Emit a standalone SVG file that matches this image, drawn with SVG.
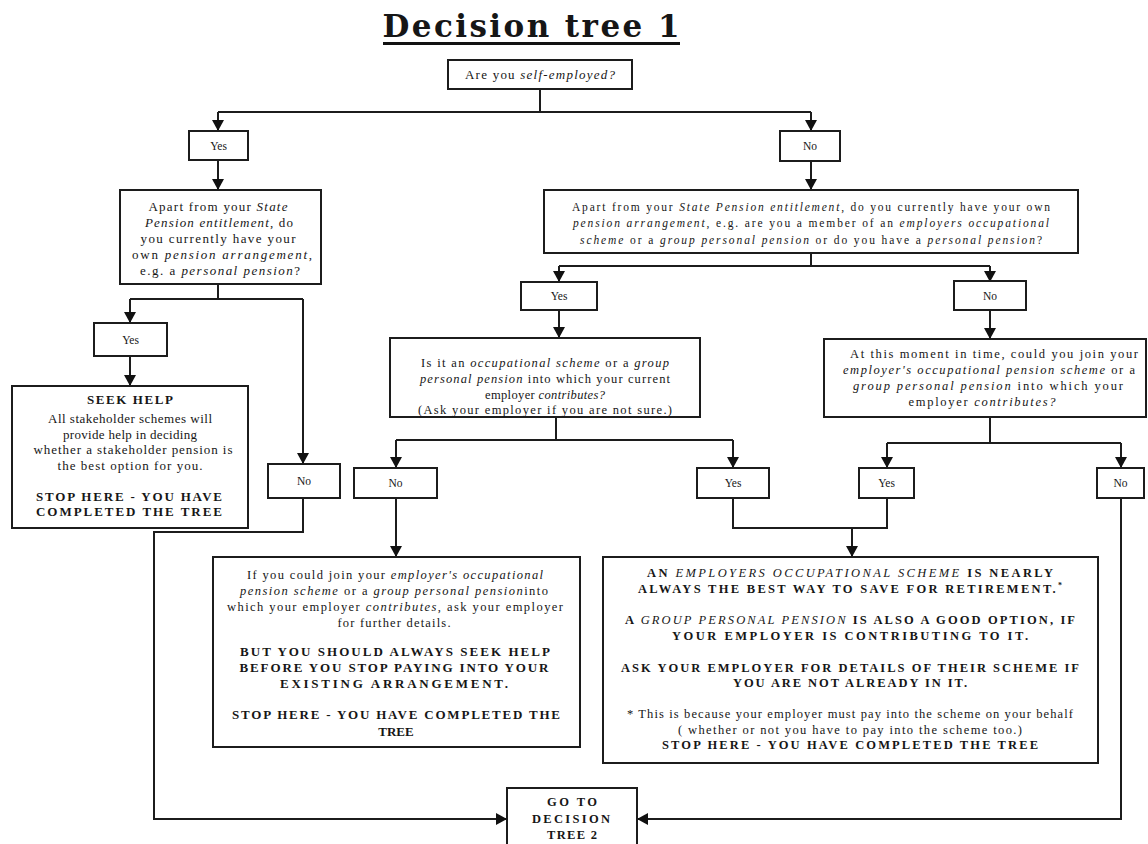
<svg xmlns="http://www.w3.org/2000/svg" width="1148" height="844" viewBox="0 0 1148 844">
<defs>
<marker id="ah" viewBox="0 0 12 12" refX="6" refY="12" markerWidth="12" markerHeight="12" markerUnits="userSpaceOnUse" orient="0">
<path d="M0,1 L12,1 L6,12 z" fill="#111"/>
</marker>
<marker id="ar" viewBox="0 0 12 12" refX="12" refY="6" markerWidth="12" markerHeight="12" markerUnits="userSpaceOnUse" orient="auto">
<path d="M1,0 L12,6 L1,12 z" fill="#111"/>
</marker>
</defs>
<style>
text{font-family:"Liberation Serif","Times New Roman",serif;fill:#161616;text-anchor:middle}
.box{fill:#fff;stroke:#1c1c1c;stroke-width:2}
.c{fill:none;stroke:#1c1c1c;stroke-width:2}
.a{marker-end:url(#ah)}
.s11{font-size:11.5px}
.s12{font-size:12.5px}
.s13{font-size:13px}
.b{font-weight:bold}
.i{font-style:italic}
.ni{font-style:italic;font-weight:normal}
</style>
<rect width="1148" height="844" fill="#fff"/>
<g id="title">
<text x="531" y="37" style="font-family:'DejaVu Serif','Liberation Serif',serif;font-size:31px;font-weight:bold" textLength="297" lengthAdjust="spacing">Decision tree 1</text>
<line x1="383" y1="43.5" x2="680" y2="43.5" stroke="#111" stroke-width="3"/>
</g>
<g id="connectors">
<path class="c" d="M540,89 V112 M218,112 H811"/>
<path class="c a" d="M218,112 V131"/>
<path class="c a" d="M811,112 V131"/>
<path class="c a" d="M218,160 V190"/>
<path class="c" d="M218,284 V299 M130,299 H303"/>
<path class="c a" d="M130,299 V323"/>
<path class="c a" d="M303,299 V464"/>
<path class="c a" d="M130,356 V386"/>
<path class="c" d="M303,498 V532 H154 V819 H496"/>
<path class="c" d="M496,819 H507" marker-end="url(#ar)"/>
<path class="c a" d="M811,161 V190"/>
<path class="c" d="M811,253 V266 M559,266 H990"/>
<path class="c a" d="M559,266 V282"/>
<path class="c a" d="M990,266 V282"/>
<path class="c a" d="M559,310 V338"/>
<path class="c a" d="M990,310 V339"/>
<path class="c" d="M556,417 V440 M396,440 H733"/>
<path class="c a" d="M396,440 V468"/>
<path class="c a" d="M733,440 V468"/>
<path class="c" d="M990,417 V443 M887,443 H1121"/>
<path class="c a" d="M887,443 V468"/>
<path class="c a" d="M1121,443 V468"/>
<path class="c a" d="M396,498 V557"/>
<path class="c" d="M733,498 V528 H887 V498"/>
<path class="c a" d="M852,528 V557"/>
<path class="c" d="M1121,498 V819 H648"/>
<path class="c" d="M648,819 H637" marker-end="url(#ar)"/>
</g>
<g id="q-self-employed">
<rect class="box" x="448" y="60" width="184" height="29"/>
<text class="s13" x="540" y="79" textLength="150" lengthAdjust="spacing">Are you <tspan class="i">self-employed?</tspan></text>
</g>
<g id="yes-1">
<rect class="box" x="189" y="131" width="59" height="29"/>
<text class="s11" x="218.5" y="150">Yes</text>
</g>
<g id="no-1">
<rect class="box" x="780" y="131" width="60" height="30"/>
<text class="s11" x="810" y="150">No</text>
</g>
<g id="q-own-pension-self">
<rect class="box" x="120" y="190" width="201" height="94"/>
<text class="s13" x="218" y="211" textLength="139" lengthAdjust="spacing">Apart from your <tspan class="i">State</tspan></text>
<text class="s13" x="219" y="227" textLength="148" lengthAdjust="spacing"><tspan class="i">Pension entitlement</tspan>, do</text>
<text class="s13" x="218" y="243" textLength="155" lengthAdjust="spacing">you currently have your</text>
<text class="s13" x="222" y="259" textLength="180" lengthAdjust="spacing">own <tspan class="i">pension arrangement</tspan>,</text>
<text class="s13" x="220" y="275" textLength="160" lengthAdjust="spacing">e.g. a <tspan class="i">personal pension</tspan>?</text>
</g>
<g id="q-own-pension-employed">
<rect class="box" x="544" y="190" width="534" height="63"/>
<text class="s11" x="811" y="211" textLength="478" lengthAdjust="spacing">Apart from your <tspan class="i">State Pension entitlement</tspan>, do you currently have your own</text>
<text class="s11" x="811" y="227" textLength="476" lengthAdjust="spacing"><tspan class="i">pension arrangement</tspan>, e.g. are you a member of an <tspan class="i">employers occupational</tspan></text>
<text class="s11" x="811" y="244" textLength="462" lengthAdjust="spacing"><tspan class="i">scheme</tspan> or a <tspan class="i">group personal pension</tspan> or do you have a <tspan class="i">personal pension</tspan>?</text>
</g>
<g id="yes-2">
<rect class="box" x="94" y="323" width="73" height="33"/>
<text class="s11" x="130.5" y="344">Yes</text>
</g>
<g id="no-2">
<rect class="box" x="268" y="464" width="72" height="34"/>
<text class="s11" x="304" y="485">No</text>
</g>
<g id="seek-help">
<rect class="box" x="12" y="386" width="236" height="142"/>
<text class="s13 b" x="130" y="404" textLength="86" lengthAdjust="spacing">SEEK HELP</text>
<text class="s13" x="130" y="423" textLength="164" lengthAdjust="spacing">All stakeholder schemes will</text>
<text class="s13" x="130" y="439" textLength="134" lengthAdjust="spacing">provide help in deciding</text>
<text class="s13" x="133" y="454" textLength="199" lengthAdjust="spacing">whether a stakeholder pension is</text>
<text class="s13" x="130" y="470" textLength="145" lengthAdjust="spacing">the best option for you.</text>
<text class="s13 b" x="129" y="501" textLength="186" lengthAdjust="spacing">STOP HERE - YOU HAVE</text>
<text class="s13 b" x="129" y="516" textLength="186" lengthAdjust="spacing">COMPLETED THE TREE</text>
</g>
<g id="yes-3">
<rect class="box" x="521" y="282" width="76" height="28"/>
<text class="s11" x="559" y="300">Yes</text>
</g>
<g id="no-3">
<rect class="box" x="954" y="281" width="72" height="29"/>
<text class="s11" x="990" y="300">No</text>
</g>
<g id="q-occupational">
<rect class="box" x="390" y="338" width="310" height="79"/>
<text class="s12" x="545" y="367" textLength="248" lengthAdjust="spacing">Is it an <tspan class="i">occupational scheme</tspan> or a <tspan class="i">group</tspan></text>
<text class="s12" x="545" y="383" textLength="250" lengthAdjust="spacing"><tspan class="i">personal pension</tspan> into which your current</text>
<text class="s12" x="545" y="399" textLength="120" lengthAdjust="spacing">employer <tspan class="i">contributes?</tspan></text>
<text class="s12" x="545" y="414" textLength="254" lengthAdjust="spacing">(Ask your employer if you are not sure.)</text>
</g>
<g id="q-could-join">
<rect class="box" x="824" y="339" width="322" height="78"/>
<text class="s12" x="994" y="358" textLength="288" lengthAdjust="spacing">At this moment in time, could you join your</text>
<text class="s12" x="989" y="374" textLength="292" lengthAdjust="spacing"><tspan class="i">employer's occupational pension  scheme</tspan> or a</text>
<text class="s12" x="988" y="390" textLength="270" lengthAdjust="spacing"><tspan class="i">group personal pension</tspan> into which your</text>
<text class="s12" x="982" y="406" textLength="147" lengthAdjust="spacing">employer <tspan class="i">contributes?</tspan></text>
</g>
<g id="no-4">
<rect class="box" x="354" y="468" width="83" height="30"/>
<text class="s11" x="395.5" y="487">No</text>
</g>
<g id="yes-4">
<rect class="box" x="697" y="468" width="72" height="30"/>
<text class="s11" x="733" y="487">Yes</text>
</g>
<g id="yes-5">
<rect class="box" x="859" y="468" width="55" height="30"/>
<text class="s11" x="886.5" y="487">Yes</text>
</g>
<g id="no-5">
<rect class="box" x="1097" y="468" width="47" height="30"/>
<text class="s11" x="1120.5" y="487">No</text>
</g>
<g id="result-join-employer">
<rect class="box" x="213" y="557" width="367" height="190"/>
<text class="s12" x="395" y="579" textLength="296" lengthAdjust="spacing">If you could join your <tspan class="i">employer's occupational</tspan></text>
<text class="s12" x="394" y="595" textLength="308" lengthAdjust="spacing"><tspan class="i">pension scheme</tspan> or a <tspan class="i">group personal pension</tspan>into</text>
<text class="s12" x="395" y="611" textLength="336" lengthAdjust="spacing">which your employer <tspan class="i">contributes</tspan>, ask your employer</text>
<text class="s12" x="394" y="627" textLength="113" lengthAdjust="spacing">for further details.</text>
<text class="s13 b" x="395" y="656" textLength="310" lengthAdjust="spacing">BUT YOU SHOULD ALWAYS SEEK HELP</text>
<text class="s13 b" x="394" y="672" textLength="309" lengthAdjust="spacing">BEFORE YOU STOP PAYING INTO YOUR</text>
<text class="s13 b" x="394" y="688" textLength="228" lengthAdjust="spacing">EXISTING ARRANGEMENT.</text>
<text class="s13 b" x="396" y="719" textLength="328" lengthAdjust="spacing">STOP HERE - YOU HAVE COMPLETED THE</text>
<text class="s13 b" x="396" y="736">TREE</text>
</g>
<g id="result-occupational">
<rect class="box" x="603" y="557" width="495" height="206"/>
<text class="s12 b" x="850" y="577" textLength="406" lengthAdjust="spacing">AN <tspan class="ni">EMPLOYERS OCCUPATIONAL SCHEME</tspan> IS NEARLY</text>
<text class="s12 b" x="850" y="593" textLength="424" lengthAdjust="spacing">ALWAYS THE BEST WAY TO SAVE FOR RETIREMENT.<tspan style="font-size:8px" dy="-5">*</tspan></text>
<text class="s12 b" x="850" y="624" textLength="450" lengthAdjust="spacing">A <tspan class="ni">GROUP PERSONAL PENSION</tspan> IS ALSO A GOOD OPTION, IF</text>
<text class="s12 b" x="850" y="640" textLength="356" lengthAdjust="spacing">YOUR EMPLOYER IS CONTRIBUTING TO IT.</text>
<text class="s12 b" x="850" y="672" textLength="458" lengthAdjust="spacing">ASK YOUR EMPLOYER FOR DETAILS OF THEIR SCHEME IF</text>
<text class="s12 b" x="850" y="687" textLength="234" lengthAdjust="spacing">YOU ARE NOT ALREADY IN IT.</text>
<text class="s12" x="850" y="718" textLength="446" lengthAdjust="spacing">* This is because your employer must pay into the scheme on your behalf</text>
<text class="s12" x="850" y="734" textLength="344" lengthAdjust="spacing">( whether or not you have to pay into the scheme too.)</text>
<text class="s12 b" x="850" y="749" textLength="376" lengthAdjust="spacing">STOP HERE - YOU HAVE COMPLETED THE TREE</text>
</g>
<g id="goto-tree-2">
<rect class="box" x="507" y="788" width="130" height="62"/>
<text class="s12 b" x="572" y="806" textLength="50" lengthAdjust="spacing">GO TO</text>
<text class="s12 b" x="571" y="823" textLength="78" lengthAdjust="spacing">DECISION</text>
<text class="s12 b" x="572" y="839" textLength="50" lengthAdjust="spacing">TREE 2</text>
</g>
</svg>
